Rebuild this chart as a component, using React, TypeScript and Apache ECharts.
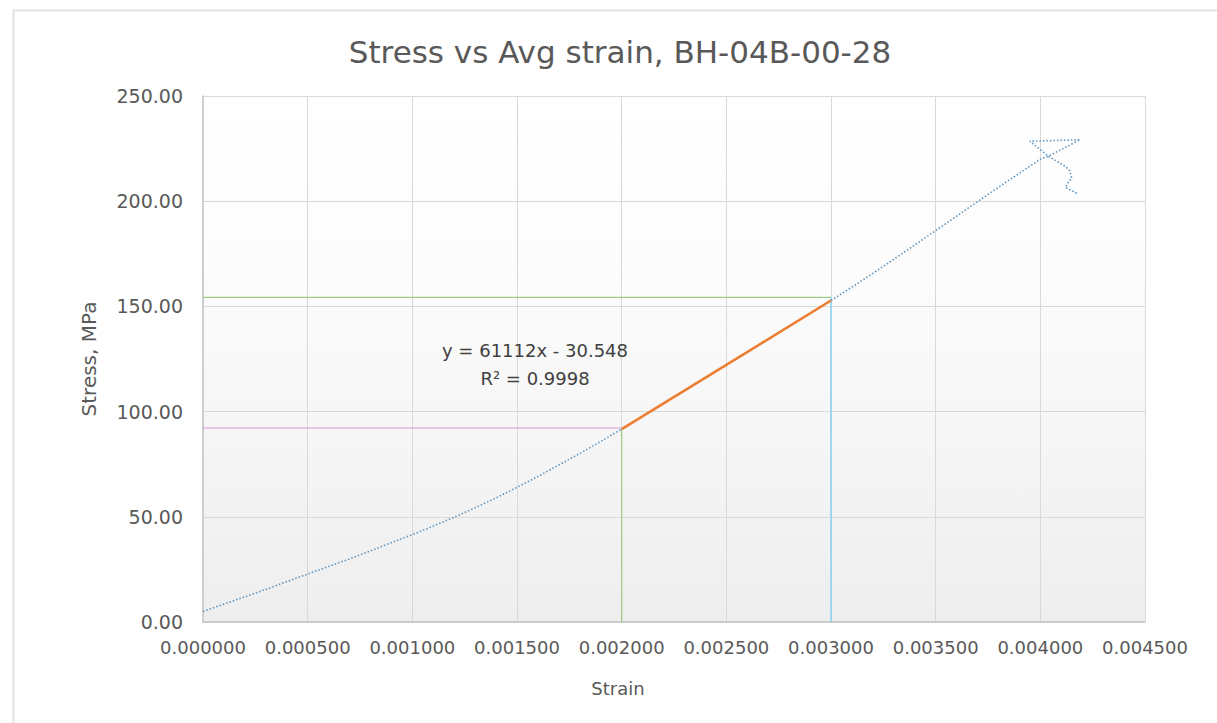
import { useEffect, useRef } from "react";
import * as echarts from "echarts";

const TITLE = "Stress vs Avg strain, BH-04B-00-28";
const X_NAME = "Strain";
const Y_NAME = "Stress, MPa";

// Measured curve (strain, stress MPa)
const strain = [
  0, 0.0001, 0.0002, 0.0003, 0.0004, 0.0005, 0.0006, 0.0007, 0.0008, 0.0009,
  0.001, 0.0011, 0.0012, 0.0013, 0.0014, 0.0015, 0.0016, 0.0017, 0.0018, 0.0019,
  0.002, 0.0021, 0.0022, 0.0023, 0.0024, 0.0025, 0.0026, 0.0027, 0.0028, 0.0029,
  0.003, 0.0031, 0.0032, 0.0033, 0.0034, 0.0035, 0.0036, 0.0037, 0.0038, 0.0039,
  0.004, 0.00404, 0.00419, 0.00395, 0.00404, 0.00412, 0.00414, 0.00415, 0.00413,
  0.00412, 0.00418,
];
const stress = [
  5.0, 8.5, 12.0, 15.5, 19.2, 22.8, 26.4, 30.0, 33.8, 37.7,
  41.5, 45.6, 49.8, 54.3, 59.0, 64.0, 69.2, 74.6, 80.1, 85.8,
  91.7, 97.8, 103.9, 110.0, 116.1, 122.2, 128.3, 134.4, 140.5, 146.7,
  152.8, 159.2, 165.7, 172.4, 179.2, 186.0, 192.9, 199.8, 206.6, 213.3,
  220.0, 221.5, 229.2, 228.5, 221.3, 216.5, 214.5, 211.0, 208.5,
  206.5, 203.5,
];

// Linear trendline over 0.002 – 0.003
const trendStrain = [0.002, 0.003];
const trendStress = [91.68, 152.79];
const EQUATION = "y = 61112x - 30.548";
const R2 = "R² = 0.9998";

// Guide lines
const pinkStrain = [0, 0.002];
const pinkStress = [92.2, 92.2];
const greenVStrain = [0.002, 0.002];
const greenVStress = [0, 92.2];
const greenHStrain = [0, 0.003];
const greenHStress = [154.3, 154.3];
const blueVStrain = [0.003, 0.003];
const blueVStress = [0, 154.3];

const X_MIN = 0;
const X_MAX = 0.0045;
const X_STEP = 0.0005;
const Y_MIN = 0;
const Y_MAX = 250;
const Y_STEP = 50;

const zip = (a: number[], b: number[]) => a.map((v, i) => [v, b[i]]);

const FONT = "DejaVu Sans";

export default function App() {
  const ref = useRef<HTMLDivElement>(null);
  useEffect(() => {
    if (!ref.current) return;
    const chart = echarts.init(ref.current, null, { renderer: "svg" });
    const guide = (name: string, xs: number[], ys: number[], color: string, width = 1.2) => ({
      name,
      type: "line",
      data: zip(xs, ys),
      showSymbol: false,
      symbol: "none",
      lineStyle: { color, width },
      silent: true,
      z: 3,
    });
    chart.setOption({
      animation: false,
      backgroundColor: "#ffffff",
      title: {
        text: TITLE,
        left: 615,
        top: 31,
        textAlign: "center",
        textStyle: { fontFamily: FONT, fontSize: 31, fontWeight: "normal", color: "#595959" },
      },
      grid: {
        left: 203,
        right: 72,
        top: 96,
        bottom: 101,
        show: true,
        borderWidth: 0,
        backgroundColor: new echarts.graphic.LinearGradient(0, 0, 0, 1, [
          { offset: 0, color: "#ffffff" },
          { offset: 0.35, color: "#fcfcfc" },
          { offset: 1, color: "#eeeeee" },
        ]),
      },
      xAxis: {
        type: "value",
        min: X_MIN,
        max: X_MAX,
        interval: X_STEP,
        axisLine: { show: true, lineStyle: { color: "#c4c4c4", width: 1.5 } },
        axisTick: { show: false },
        splitLine: { show: true, lineStyle: { color: "#d9d9d9", width: 1 } },
        axisLabel: {
          fontFamily: FONT,
          fontSize: 18,
          color: "#595959",
          margin: 16,
          formatter: (v: number) => v.toFixed(6),
        },
      },
      yAxis: {
        type: "value",
        min: Y_MIN,
        max: Y_MAX,
        interval: Y_STEP,
        name: Y_NAME,
        nameLocation: "middle",
        nameGap: 104,
        nameTextStyle: { fontFamily: FONT, fontSize: 20, color: "#595959" },
        axisLine: { show: true, lineStyle: { color: "#c4c4c4", width: 1.5 } },
        axisTick: { show: false },
        splitLine: { show: true, lineStyle: { color: "#d9d9d9", width: 1 } },
        axisLabel: {
          fontFamily: FONT,
          fontSize: 19,
          color: "#595959",
          margin: 20,
          formatter: (v: number) => v.toFixed(2),
        },
      },
      series: [
        guide("pink", pinkStrain, pinkStress, "#d596d5"),
        guide("greenV", greenVStrain, greenVStress, "#9fcb83"),
        guide("greenH", greenHStrain, greenHStress, "#9fcb83"),
        guide("blueV", blueVStrain, blueVStress, "#8fd3f2", 1.6),
        {
          name: "Stress",
          type: "line",
          data: zip(strain, stress),
          showSymbol: false,
          symbol: "none",
          lineStyle: { color: "#5f95bf", width: 1.6, type: [1.5, 2] },
          z: 4,
        },
        {
          name: "Trend",
          type: "line",
          data: zip(trendStrain, trendStress),
          showSymbol: false,
          symbol: "none",
          lineStyle: { color: "#ed7d31", width: 2.5 },
          z: 5,
        },
      ],
      graphic: [
        {
          type: "rect",
          left: 11,
          top: 8,
          shape: { width: 1300, height: 800 },
          style: { fill: "none", stroke: "#e2e2e2", lineWidth: 2 },
          silent: true,
        },
        {
          type: "text",
          x: 618,
          y: 688,
          style: {
            text: X_NAME,
            fontFamily: FONT,
            fontSize: 18,
            fill: "#595959",
            align: "center",
            verticalAlign: "middle",
          },
        },
        {
          type: "text",
          x: 535,
          y: 350,
          style: {
            text: EQUATION,
            fontFamily: FONT,
            fontSize: 18,
            fill: "#404040",
            align: "center",
            verticalAlign: "middle",
          },
          z: 10,
        },
        {
          type: "text",
          x: 535,
          y: 378,
          style: {
            text: R2,
            fontFamily: FONT,
            fontSize: 18,
            fill: "#404040",
            align: "center",
            verticalAlign: "middle",
          },
          z: 10,
        },
      ],
    });
    return () => chart.dispose();
  }, []);
  return (
    <div
      ref={ref}
      style={{ position: "fixed", left: 0, top: 0, width: 1217, height: 723 }}
    />
  );
}
